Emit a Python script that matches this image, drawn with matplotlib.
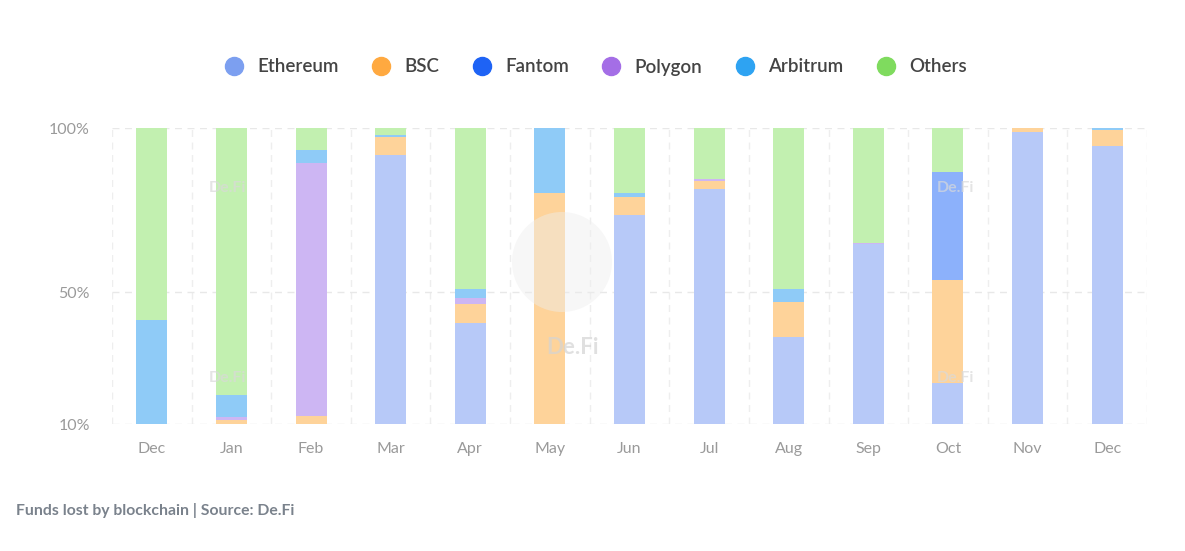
import matplotlib
matplotlib.use("Agg")
import matplotlib.pyplot as plt
from matplotlib.lines import Line2D
from matplotlib.transforms import IdentityTransform
import numpy as np

months = ["Dec", "Jan", "Feb", "Mar", "Apr", "May", "Jun", "Jul", "Aug", "Sep", "Oct", "Nov", "Dec"]
series_names = ["Ethereum", "BSC", "Fantom", "Polygon", "Arbitrum", "Others"]

ethereum = [0.0, 0.0, 0.0, 90.8, 34.1, 0.0, 70.5, 79.3, 29.3, 60.7, 14.0, 98.8, 94.0]
bsc      = [0.0, 1.2, 2.8, 6.0, 6.6, 78.2, 6.3, 2.8, 12.0, 0.0, 34.8, 1.2, 5.3]
fantom   = [0.0, 0.0, 0.0, 0.0, 0.0, 0.0, 0.0, 0.0, 0.0, 0.0, 36.5, 0.0, 0.0]
polygon  = [0.0, 1.0, 85.5, 0.0, 1.9, 0.0, 0.0, 0.6, 0.0, 0.6, 0.0, 0.0, 0.0]
arbitrum = [35.3, 7.6, 4.3, 0.9, 3.0, 21.8, 1.1, 0.0, 4.4, 0.0, 0.0, 0.0, 0.7]
others   = [64.7, 90.2, 7.4, 2.3, 54.4, 0.0, 22.0, 17.3, 54.3, 38.7, 14.7, 0.0, 0.0]

ytick_pos = [0, 44.5, 100]
ytick_labels = ["10%", "50%", "100%"]

legend_colors = ["#7c9ff0", "#ffa940", "#1e63f5", "#a46ee6", "#2ea3f2", "#7fdb5e"]
bar_colors = ["#b7c9f8", "#fed39a", "#8cb1fb", "#cdb6f3", "#8fcbf7", "#c2f0b0"]

plt.rcParams['font.family'] = ['Lato', 'DejaVu Sans']

fig = plt.figure(figsize=(11.85, 5.51), dpi=100)
ax = fig.add_axes([112/1185, 1-424/551, (1147-112)/1185, (424-128)/551])

x = np.arange(len(months))
data = [ethereum, bsc, fantom, polygon, arbitrum, others]
bottom = np.zeros(len(months))
for vals, col in zip(data, bar_colors):
    v = np.array(vals)
    ax.bar(x, v, bottom=bottom, width=0.39, color=col, linewidth=0, zorder=3)
    bottom += v

ax.set_xlim(-0.5, len(months) - 0.5)
ax.set_ylim(0, 100)
ax.set_xticks(x)
ax.set_xticklabels(months, fontsize=11.5, color="#9a9a9a")
ax.set_yticks(ytick_pos)
ax.set_yticklabels(ytick_labels, fontsize=11.5, color="#9a9a9a")
ax.set_xticks(np.arange(-0.5, len(months), 1.0), minor=True)
ax.tick_params(axis="both", which="both", length=0)
ax.tick_params(axis="x", pad=13)
ax.tick_params(axis="y", pad=16)
ax.grid(axis="y", which="major", linestyle=(0, (5, 4)), color="#e8e8e8", linewidth=1, zorder=0)
ax.grid(axis="x", which="minor", linestyle=(0, (5, 4)), color="#eeeeee", linewidth=1, zorder=0)
ax.grid(axis="x", which="major", visible=False)
for s in ax.spines.values():
    s.set_visible(False)

# watermarks
wm = dict(color="#d9d9d9", fontsize=11.5, fontweight="bold", ha="center", va="center", zorder=4, alpha=0.7)
fig.text(228/1185, 1-188/551, "De.Fi", **wm)
fig.text(228/1185, 1-378/551, "De.Fi", **wm)
fig.text(955/1185, 1-188/551, "De.Fi", **wm)
fig.text(955/1185, 1-378/551, "De.Fi", **wm)
fig.text(573/1185, 1-348/551, "De.Fi", color="#d4d4d4", fontsize=16, fontweight="bold",
         ha="center", va="center", zorder=4, alpha=0.7)
circ = plt.Circle((562, 551-262), 50, transform=IdentityTransform(), color="#eeeeee",
                  alpha=0.45, zorder=5, linewidth=0)
fig.add_artist(circ)

handles = [Line2D([0], [0], marker="o", linestyle="", markersize=13, markerfacecolor=c,
                  markeredgecolor=c) for c in legend_colors]
leg = fig.legend(handles, series_names, loc="center", bbox_to_anchor=(591/1185, 1-67/551),
                 ncol=6, frameon=False, handletextpad=0.25, columnspacing=1.25,
                 prop={'family': ['Lato', 'DejaVu Sans'], 'size': 13.5, 'weight': 'semibold'})
for t in leg.get_texts():
    t.set_color("#444444")

fig.text(16/1185, 1-511/551, "Funds lost by blockchain | Source: De.Fi", fontsize=11.3,
         fontweight="bold", color="#7a828c", ha="left", va="center")

fig.savefig("out.png", dpi=100, facecolor="white")
